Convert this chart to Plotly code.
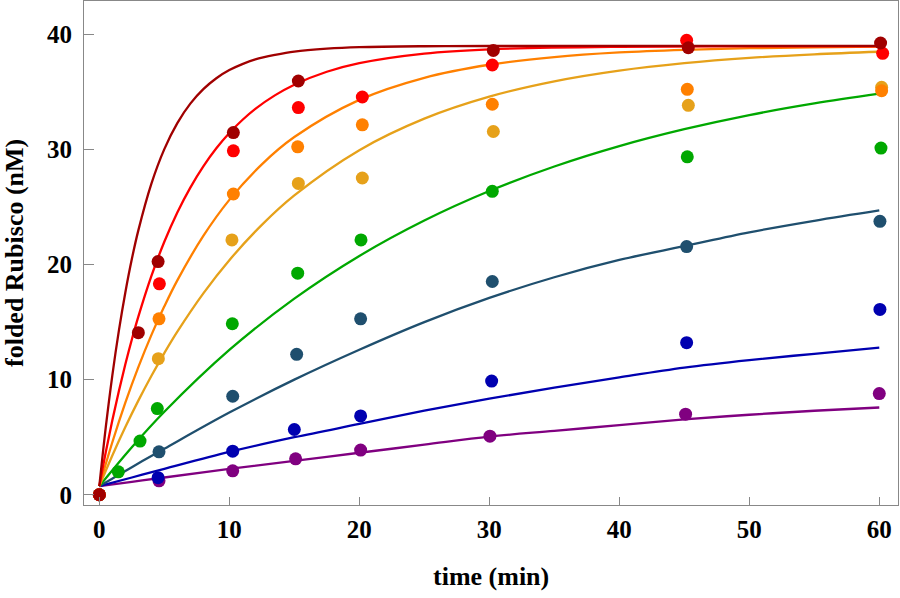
import plotly.graph_objects as go

# ---------------- data ----------------
series_names = ["purple", "blue", "slate", "green", "golden", "orange", "red", "darkred"]
series_colors = {
    "purple": "#800080",
    "blue": "#0000B0",
    "slate": "#1F4F6E",
    "green": "#00A800",
    "golden": "#E6A11A",
    "orange": "#FF8000",
    "red": "#FF0000",
    "darkred": "#A00000",
}

# measured points
pts_t = {
    "darkred": [0, 3.0, 4.52, 10.31, 15.31, 30.31, 45.31, 60.1],
    "red":     [0, 4.62, 10.31, 15.31, 20.23, 30.23, 45.18, 60.26],
    "orange":  [0, 4.59, 10.31, 15.26, 20.23, 30.23, 45.23, 60.18],
    "golden":  [0, 4.54, 10.2, 15.31, 20.23, 30.31, 45.31, 60.18],
    "green":   [0, 1.46, 3.13, 4.46, 10.23, 15.26, 20.13, 30.23, 45.23, 60.13],
    "slate":   [0, 4.59, 10.26, 15.18, 20.1, 30.23, 45.18, 60.05],
    "blue":    [0, 4.52, 10.26, 15.0, 20.1, 30.18, 45.18, 60.05],
    "purple":  [0, 4.59, 10.26, 15.1, 20.1, 30.05, 45.1, 60.0],
}
pts_y = {
    "darkred": [0, 14.08, 20.26, 31.47, 35.95, 38.61, 38.84, 39.25],
    "red":     [0, 18.33, 29.88, 33.64, 34.56, 37.34, 39.48, 38.35],
    "orange":  [0, 15.29, 26.13, 30.23, 32.14, 33.93, 35.23, 35.1],
    "golden":  [0, 11.82, 22.14, 27.05, 27.52, 31.56, 33.84, 35.4],
    "green":   [0, 1.99, 4.66, 7.49, 14.86, 19.25, 22.14, 26.36, 29.36, 30.12],
    "slate":   [0, 3.73, 8.56, 12.2, 15.29, 18.53, 21.56, 23.76],
    "blue":    [0, 1.48, 3.79, 5.67, 6.85, 9.88, 13.21, 16.1],
    "purple":  [0, 1.21, 2.08, 3.12, 3.88, 5.09, 7.0, 8.79],
}

# fitted curves, values
t_fast = [0, 0.5, 1, 1.5, 2, 2.5, 3, 4, 5, 6, 7, 8, 9, 10, 11, 12, 13.5, 15, 17.5, 20,
          25, 30, 40, 50, 60]
t_mid = [0, 1, 2, 3, 4, 5, 6, 8, 10, 12.5, 15, 20, 25, 30, 35, 40, 45, 50, 55, 60]
t_slow = [0, 2.5, 5, 10, 15, 20, 25, 30, 35, 40, 45, 50, 55, 60]

curve_darkred = [0.75, 5.91, 10.38, 14.24, 17.58, 20.48, 22.97, 27.01, 30.03, 32.29, 33.98,
                 35.24, 36.19, 36.9, 37.42, 37.82, 38.21, 38.51, 38.76, 38.89, 38.97, 38.99,
                 39.0, 39.0, 39.0]
curve_red = [0.75, 3.73, 6.47, 9.0, 11.33, 13.49, 15.47, 18.99, 21.98, 24.53, 26.69,
             28.53, 30.1, 31.43, 32.56, 33.53, 34.7, 35.63, 36.75, 37.5, 38.33, 38.7,
             38.92, 38.96, 38.97]
curve_orange = [0.75, 4.56, 8.0, 11.09, 13.87, 16.37, 18.63, 22.49, 25.62, 28.71, 31.08,
                34.31, 36.23, 37.36, 38.03, 38.43, 38.66, 38.8, 38.88, 38.93]
curve_golden = [0.75, 3.41, 5.88, 8.18, 10.32, 12.31, 14.17, 17.5, 20.38, 23.45, 26.01,
                29.94, 32.68, 34.59, 35.92, 36.85, 37.5, 37.96, 38.27, 38.49]
curve_green = [0.75, 4.13, 7.21, 12.58, 17.04, 20.75, 23.83, 26.39, 28.52, 30.29, 31.76,
               32.99, 34.0, 34.85]
curve_slate = [0.75, 2.4, 4.0, 7.14, 10.0, 12.6, 15.0, 17.1, 18.9, 20.4, 21.6, 22.8, 23.8, 24.7]
curve_blue = [0.75, 1.5, 2.25, 3.72, 5.0, 6.15, 7.3, 8.35, 9.3, 10.2, 11.05, 11.7, 12.25, 12.78]
curve_purple = [0.75, 1.12, 1.5, 2.25, 2.95, 3.65, 4.35, 5.05, 5.55, 6.05, 6.55, 6.95, 7.3, 7.58]

curves = {
    "darkred": (t_fast, curve_darkred),
    "red": (t_fast, curve_red),
    "orange": (t_mid, curve_orange),
    "golden": (t_mid, curve_golden),
    "green": (t_slow, curve_green),
    "slate": (t_slow, curve_slate),
    "blue": (t_slow, curve_blue),
    "purple": (t_slow, curve_purple),
}

x_ticks = [0, 10, 20, 30, 40, 50, 60]
y_ticks = [0, 10, 20, 30, 40]
x_title = "time (min)"
y_title = "folded Rubisco (nM)"

# ---------------- figure ----------------
fig = go.Figure()
for name in series_names:
    tx, ty = curves[name]
    fig.add_trace(go.Scatter(x=tx, y=ty, mode="lines",
                             line=dict(color=series_colors[name], width=2.3, shape="spline", smoothing=1.0),
                             hoverinfo="skip", showlegend=False))
for name in series_names:
    fig.add_trace(go.Scatter(x=pts_t[name], y=pts_y[name], mode="markers",
                             marker=dict(color=series_colors[name], size=13, line=dict(width=0)),
                             showlegend=False))

font_family = "Liberation Serif, Times New Roman, serif"
axis_common = dict(showgrid=False, zeroline=False, showline=True, mirror=True,
                   linecolor="#888888", linewidth=1, ticks="inside", tickcolor="#888888",
                   tickwidth=1,
                   tickfont=dict(family=font_family, size=25, color="black", weight="bold"))

fig.update_xaxes(range=[-1.18, 61.44], tickvals=x_ticks, ticklen=8, ticklabelstandoff=2, **axis_common)
fig.update_yaxes(range=[-0.89, 42.9], tickvals=y_ticks, ticklen=10, ticklabelstandoff=6, **axis_common)

fig.add_annotation(text=x_title, xref="paper", yref="paper", x=0.5, y=-0.142,
                   xanchor="center", yanchor="middle", showarrow=False,
                   font=dict(family=font_family, size=26, color="black", weight="bold"))
fig.add_annotation(text=y_title, xref="paper", yref="paper", x=-0.086, y=0.5,
                   xanchor="center", yanchor="middle", showarrow=False, textangle=-90,
                   font=dict(family=font_family, size=26, color="black", weight="bold"))

fig.update_layout(width=900, height=598, margin=dict(l=84, r=2, t=1, b=93),
                  plot_bgcolor="white", paper_bgcolor="white")

fig.write_html("out.html", config={"displayModeBar": False},
               post_script="document.body.style.margin='0';")
